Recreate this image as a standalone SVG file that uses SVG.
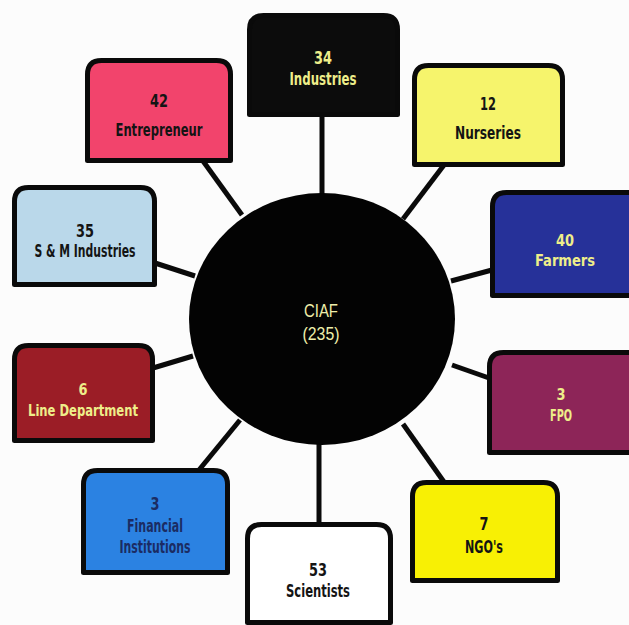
<svg xmlns="http://www.w3.org/2000/svg" width="629" height="625" viewBox="0 0 629 625">
<style>
.box{stroke:#0a0a0a;stroke-width:5;stroke-linejoin:round}
.lbl{font-family:"Liberation Sans Narrow","DejaVu Sans Condensed","Liberation Sans",sans-serif;font-weight:bold;font-size:18px;text-anchor:middle}
.sm{font-size:16px}
.dark{fill:#141414}
.yel{fill:#eeee8a}
.conn line{stroke:#0a0a0a;stroke-width:5;stroke-linecap:butt}
.hub{font-family:"Liberation Sans","Arial",sans-serif;font-size:18px;text-anchor:middle;fill:#eeeeaa}
</style>
<rect width="629" height="625" fill="#fcfcfc"/>
<g id="connectors" class="conn">
<line x1="322" y1="115" x2="322" y2="197"/>
<line x1="203" y1="161" x2="242" y2="215"/>
<line x1="444" y1="165" x2="403" y2="219"/>
<line x1="155" y1="263" x2="195" y2="276"/>
<line x1="451" y1="281" x2="492" y2="270"/>
<line x1="153" y1="368" x2="193" y2="356"/>
<line x1="452" y1="365" x2="489" y2="378"/>
<line x1="199" y1="470" x2="240" y2="420"/>
<line x1="319" y1="442" x2="319" y2="524"/>
<line x1="403" y1="424" x2="444" y2="482"/>
</g>
<g id="hub">
<ellipse cx="322" cy="319" rx="133" ry="126" fill="#030303"/>
<text class="hub" x="321" y="317" textLength="34" lengthAdjust="spacingAndGlyphs">CIAF</text>
<text class="hub" x="321" y="340" textLength="37" lengthAdjust="spacingAndGlyphs">(235)</text>
</g>
<g id="industries">
<path class="box" d="M249.5,114.5 V29.5 Q249.5,15.5 263.5,15.5 H383.5 Q397.5,15.5 397.5,29.5 V114.5 Z" fill="#0c0c0c"/>
<text class="lbl yel" x="323" y="64" textLength="18" lengthAdjust="spacingAndGlyphs">34</text>
<text class="lbl yel" x="323" y="85" textLength="67" lengthAdjust="spacingAndGlyphs">Industries</text>
</g>
<g id="entrepreneur">
<path class="box" d="M87.5,160.5 V74.5 Q87.5,60.5 101.5,60.5 H216.5 Q230.5,60.5 230.5,74.5 V160.5 Z" fill="#f2446c"/>
<text class="lbl dark" x="159" y="107" textLength="18" lengthAdjust="spacingAndGlyphs">42</text>
<text class="lbl dark" x="159" y="136" textLength="87" lengthAdjust="spacingAndGlyphs">Entrepreneur</text>
</g>
<g id="nurseries">
<path class="box" d="M414.5,164.5 V79.5 Q414.5,65.5 428.5,65.5 H548.5 Q562.5,65.5 562.5,79.5 V164.5 Z" fill="#f6f46c"/>
<text class="lbl dark" x="488" y="110" textLength="16" lengthAdjust="spacingAndGlyphs">12</text>
<text class="lbl dark" x="488" y="139" textLength="66" lengthAdjust="spacingAndGlyphs">Nurseries</text>
</g>
<g id="sm-industries">
<path class="box" d="M14.5,284.5 V201.5 Q14.5,187.5 28.5,187.5 H140.5 Q154.5,187.5 154.5,201.5 V284.5 Z" fill="#bad8ea"/>
<text class="lbl dark" x="85" y="237" textLength="18" lengthAdjust="spacingAndGlyphs">35</text>
<text class="lbl dark" x="85" y="257" textLength="101" lengthAdjust="spacingAndGlyphs">S &amp; M Industries</text>
</g>
<g id="farmers">
<path class="box" d="M492.5,295.5 V206.5 Q492.5,192.5 506.5,192.5 H640 V295.5 Z" fill="#263199"/>
<text class="lbl sm yel" x="565" y="246" textLength="18" lengthAdjust="spacingAndGlyphs">40</text>
<text class="lbl sm yel" x="565" y="266" textLength="60" lengthAdjust="spacingAndGlyphs">Farmers</text>
</g>
<g id="line-department">
<path class="box" d="M14.5,440.5 V359.5 Q14.5,345.5 28.5,345.5 H138.5 Q152.5,345.5 152.5,359.5 V440.5 Z" fill="#9b1d26"/>
<text class="lbl sm yel" x="83" y="395" textLength="9" lengthAdjust="spacingAndGlyphs">6</text>
<text class="lbl sm yel" x="83" y="416" textLength="110" lengthAdjust="spacingAndGlyphs">Line Department</text>
</g>
<g id="fpo">
<path class="box" d="M489.5,452.5 V366.5 Q489.5,352.5 503.5,352.5 H640 V452.5 Z" fill="#8d2558"/>
<text class="lbl sm yel" x="561" y="400" textLength="9" lengthAdjust="spacingAndGlyphs">3</text>
<text class="lbl sm yel" x="561" y="421" textLength="22" lengthAdjust="spacingAndGlyphs">FPO</text>
</g>
<g id="financial-institutions">
<path class="box" d="M83.5,572.5 V484.5 Q83.5,470.5 97.5,470.5 H213.5 Q227.5,470.5 227.5,484.5 V572.5 Z" fill="#2b82e2"/>
<text class="lbl" fill="#1b2c63" x="155" y="510" textLength="9" lengthAdjust="spacingAndGlyphs">3</text>
<text class="lbl" fill="#1b2c63" x="155" y="532" textLength="56" lengthAdjust="spacingAndGlyphs">Financial</text>
<text class="lbl" fill="#1b2c63" x="155" y="553" textLength="71" lengthAdjust="spacingAndGlyphs">Institutions</text>
</g>
<g id="scientists">
<path class="box" d="M247.5,622.5 V538.5 Q247.5,524.5 261.5,524.5 H376.5 Q390.5,524.5 390.5,538.5 V622.5 Z" fill="#ffffff"/>
<text class="lbl dark" x="318" y="576" textLength="18" lengthAdjust="spacingAndGlyphs">53</text>
<text class="lbl dark" x="318" y="597" textLength="64" lengthAdjust="spacingAndGlyphs">Scientists</text>
</g>
<g id="ngos">
<path class="box" d="M412.5,580.5 V496.5 Q412.5,482.5 426.5,482.5 H543.5 Q557.5,482.5 557.5,496.5 V580.5 Z" fill="#f8f004"/>
<text class="lbl dark" x="484" y="530" textLength="9" lengthAdjust="spacingAndGlyphs">7</text>
<text class="lbl dark" x="484" y="553" textLength="38" lengthAdjust="spacingAndGlyphs">NGO's</text>
</g>
</svg>
